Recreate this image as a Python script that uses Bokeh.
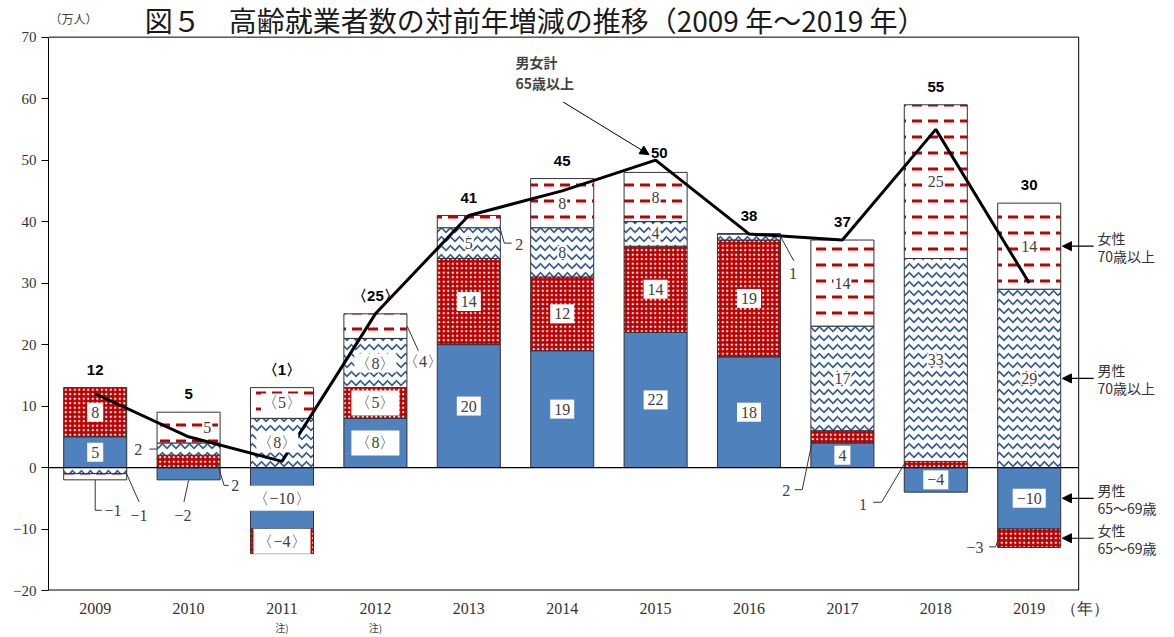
from bokeh.plotting import figure
from bokeh.models import Label, Arrow, NormalHead, FixedTicker, Range1d, LinearAxis
from bokeh.core.properties import value
from bokeh.embed import file_html
from bokeh.resources import INLINE

# ---------------- data ----------------
years = [2009, 2010, 2011, 2012, 2013, 2014, 2015, 2016, 2017, 2018, 2019]
male_65_69 = [5, -2, -10, 8, 20, 19, 22, 18, 4, -4, -10]
female_65_69 = [8, 2, -4, 5, 14, 12, 14, 19, 2, 1, -3]
male_70_over = [-1, 2, 8, 8, 5, 8, 4, 1, 17, 33, 29]
female_70_over = [-1, 5, 5, 4, 2, 8, 8, 0, 14, 25, 14]
total_65_over = [12, 5, 1, 25, 41, 45, 50, 38, 37, 55, 30]
bracket_years = [2011, 2012]
note_years = [2011, 2012]
y_ticks = [-20, -10, 0, 10, 20, 30, 40, 50, 60, 70]
series_line1 = ["男性", "女性", "男性", "女性"]
series_line2 = ["65～69歳", "65～69歳", "70歳以上", "70歳以上"]

SERIF = value("Liberation Serif")
PX_X = 93.4   # px per year
PX_Y = 6.19   # px per unit
X0, X1 = 2008.5, 2019.53     # plot box
Y0, Y1 = -20, 70
YEAR_UNIT_POS = 2019.6


def fmt(v, yr):
    s = str(abs(v))
    if v < 0:
        s = "−" + s
    if yr in bracket_years:
        s = "〈" + s + "〉"
    return s


W, H = 1174, 637
BL, BB = 48, 43
p = figure(width=W, height=H, output_backend="svg", toolbar_location=None,
           x_range=Range1d(X0, X0 + (W - BL) / PX_X),
           y_range=Range1d(Y0, Y0 + (H - BB) / PX_Y),
           min_border_left=BL, min_border_right=0, min_border_top=0, min_border_bottom=BB)
p.xgrid.visible = False
p.ygrid.visible = False
p.outline_line_color = None
p.background_fill_color = "white"
p.border_fill_color = "white"

p.yaxis.ticker = FixedTicker(ticks=y_ticks)
p.yaxis.bounds = (Y0, Y1)
p.yaxis.major_label_overrides = {t: ("−" + str(-t) if t < 0 else str(t)) for t in y_ticks}
p.yaxis.major_label_text_font = "Liberation Serif"
p.yaxis.major_label_text_font_size = "15px"
p.yaxis.major_label_text_color = "#333333"
p.yaxis.major_tick_out = 7
p.yaxis.major_tick_in = 0
p.yaxis.minor_tick_line_color = None
p.yaxis.axis_line_color = "black"
p.yaxis.major_tick_line_color = "black"
p.yaxis.major_label_standoff = 5

p.xaxis.ticker = FixedTicker(ticks=years + [YEAR_UNIT_POS])
p.xaxis.major_label_overrides = {**{y: str(y) for y in years}, YEAR_UNIT_POS: "（年）"}
p.xaxis.major_label_text_font = "Liberation Serif"
p.xaxis.major_label_text_font_size = "16px"
p.xaxis.major_label_text_color = "#333333"
p.xaxis.major_tick_line_color = None
p.xaxis.major_tick_out = 0
p.xaxis.major_tick_in = 0
p.xaxis.minor_tick_line_color = None
p.xaxis.axis_line_color = None
p.xaxis.major_label_standoff = 9

note_axis = LinearAxis(ticker=FixedTicker(ticks=note_years),
                       major_label_overrides={y: "注)" for y in note_years},
                       major_label_text_font="Noto Sans CJK JP", major_label_text_font_size="10px",
                       major_label_text_color="#404040", major_label_standoff=0,
                       axis_line_color=None, major_tick_line_color=None, minor_tick_line_color=None,
                       major_tick_out=0, major_tick_in=0, minor_tick_out=0)
p.add_layout(note_axis, "below")

# plot box (top, right, bottom)
p.segment(x0=[X0, X1, X0], y0=[Y1, Y0, Y0], x1=[X1, X1, X1], y1=[Y1, Y1, Y0],
          line_color="black", line_width=[1, 1, 2])

# ---------------- stacked bars ----------------
series = [male_65_69, female_65_69, male_70_over, female_70_over]
styles = [
    dict(fill_color="#4F81BD"),
    dict(fill_color="#C00000", hatch_pattern="dot", hatch_color="white", hatch_scale=4.5, hatch_weight=1),
    dict(fill_color="white", hatch_pattern="horizontal_wave", hatch_color="#2F5A96", hatch_scale=9, hatch_weight=1.6),
    dict(fill_color="white", hatch_pattern="horizontal_dash", hatch_color="#C00000", hatch_scale=16, hatch_weight=3),
]
n = len(years)
pos = [0] * n
neg = [0] * n
bottoms, tops = [], []
for s in series:
    b, t = [], []
    for i, v in enumerate(s):
        if v >= 0:
            b.append(pos[i]); t.append(pos[i] + v); pos[i] += v
        else:
            b.append(neg[i]); t.append(neg[i] + v); neg[i] += v
    bottoms.append(b); tops.append(t)

for k, s in enumerate(series):
    p.vbar(x=years, bottom=bottoms[k], top=tops[k], width=0.675,
           line_color="#333333", line_width=1, **styles[k])

# zero line
p.segment(x0=[X0], y0=[0], x1=[X1], y1=[0], line_color="black", line_width=1.2)

# total line
p.line(years, total_65_over, line_color="black", line_width=3)

# ---------------- in-bar labels ----------------
outside = {(2009, 2), (2009, 3), (2010, 0), (2010, 1), (2010, 2), (2012, 3), (2013, 3),
           (2016, 2), (2016, 3), (2017, 1), (2018, 1), (2019, 1)}
x_shift = {(2010, 3): 0.2, (2011, 2): -0.05}
for group, pad in (([0, 1], 4), ([2, 3], 1)):
    lx, ly, lt = [], [], []
    for k in group:
        for i, yr in enumerate(years):
            v = series[k][i]
            if v == 0 or (yr, k) in outside:
                continue
            lx.append(yr + x_shift.get((yr, k), 0))
            ly.append((bottoms[k][i] + tops[k][i]) / 2)
            lt.append(fmt(v, yr))
    p.text(x=lx, y=ly, text=lt, text_font=SERIF, text_font_size="16px", text_color="#404040",
           text_align="center", text_baseline="middle",
           background_fill_color="white", padding=pad)

# ---------------- outside labels with leader lines ----------------
leaders = [
    ("−1", 2009 + 0.19, -6.95, [2009.0, 2009.0, 2009.07], [-2, -6.95, -6.95]),
    ("−1", 2009 + 0.47, -7.8, [2009.33, 2009.47], [-0.8, -5.6]),
    ("2", 2009 + 0.46, 2.9, [2009.58, 2009.66], [3, 3]),
    ("2", 2010 + 0.50, -3.0, [2010.31, 2010.38, 2010.43], [0.6, -2.9, -2.9]),
    ("−2", 2010 - 0.06, -7.75, [2010.0, 2009.95], [-2.1, -5.6]),
    ("〈4〉", 2012 + 0.51, 17.3, [2012.34, 2012.46], [23, 19]),
    ("2", 2013 + 0.54, 36.3, [2013.33, 2013.38, 2013.46], [39.2, 36.5, 36.5]),
    ("1", 2016 + 0.47, 31.5, [2016.33, 2016.48], [37.8, 33.6]),
    ("2", 2017 - 0.60, -3.7, [2016.68, 2016.57, 2016.49], [4.5, -3.6, -3.6]),
    ("1", 2018 - 0.78, -6.0, [2017.66, 2017.42, 2017.33], [0.5, -5.65, -5.65]),
    ("−3", 2019 - 0.58, -13.0, [2018.67, 2018.64, 2018.57], [-11.6, -12.9, -12.9]),
]
p.multi_line(xs=[l[3] for l in leaders], ys=[l[4] for l in leaders], line_color="#333333", line_width=1)
p.text(x=[l[1] for l in leaders], y=[l[2] for l in leaders], text=[l[0] for l in leaders],
       text_font=SERIF, text_font_size="16px", text_color="#404040",
       text_align="center", text_baseline="middle")

# ---------------- totals ----------------
p.text(x=[y + (0.04 if y == 2015 else 0) for y in years],
       y=[pos[i] + 18 / PX_Y if years[i] != 2015 else total_65_over[i] + 7 / PX_Y for i in range(n)],
       text=[fmt(v, yr) for v, yr in zip(total_65_over, years)],
       text_font=value("Liberation Sans"), text_font_style="bold", text_font_size="15px",
       text_color="black", text_align="center", text_baseline="middle")

# total line annotation
p.add_layout(Label(x=2013.5, y=65.9, text="男女計", text_font="Noto Sans CJK JP", text_font_style="bold",
                   text_font_size="14px", text_baseline="middle", text_align="left"))
p.add_layout(Label(x=2013.5, y=62.5, text="65歳以上", text_font="Noto Sans CJK JP", text_font_style="bold",
                   text_font_size="14px", text_baseline="middle", text_align="left"))
p.add_layout(Arrow(x_start=2014.01, y_start=59.45, x_end=2014.93, y_end=50.9, line_width=1,
                   end=NormalHead(size=9, fill_color="black", line_color="black")))

# ---------------- right side legend ----------------
last = n - 1
for k in range(4):
    mid = (bottoms[k][last] + tops[k][last]) / 2
    p.add_layout(Arrow(x_start=2019.69, y_start=mid, x_end=2019.356, y_end=mid, line_width=1.2,
                       end=NormalHead(size=9, fill_color="black", line_color="black")))
    p.add_layout(Label(x=2019.73, y=mid + 8 / PX_Y, text=series_line1[k], text_font="Noto Sans CJK JP",
                       text_font_size="14px", text_color="#333333", text_baseline="middle"))
    p.add_layout(Label(x=2019.73, y=mid - 10 / PX_Y, text=series_line2[k], text_font="Noto Sans CJK JP",
                       text_font_size="14px", text_color="#333333", text_baseline="middle"))

# ---------------- title and unit ----------------
p.add_layout(Label(x=2009.53, y=Y1 + 17 / PX_Y, text="図５　高齢就業者数の対前年増減の推移（2009 年～2019 年）",
                   text_font="Noto Sans CJK JP", text_font_size="28px", text_color="#1a1a1a",
                   text_align="left", text_baseline="middle"))
p.add_layout(Label(x=X0 + 1 / PX_X, y=Y1 + 19 / PX_Y, text="（万人）", text_font="Noto Sans CJK JP",
                   text_font_size="12px", text_color="#404040", text_align="left", text_baseline="middle"))

open("out.html", "w").write(file_html(p, INLINE))
